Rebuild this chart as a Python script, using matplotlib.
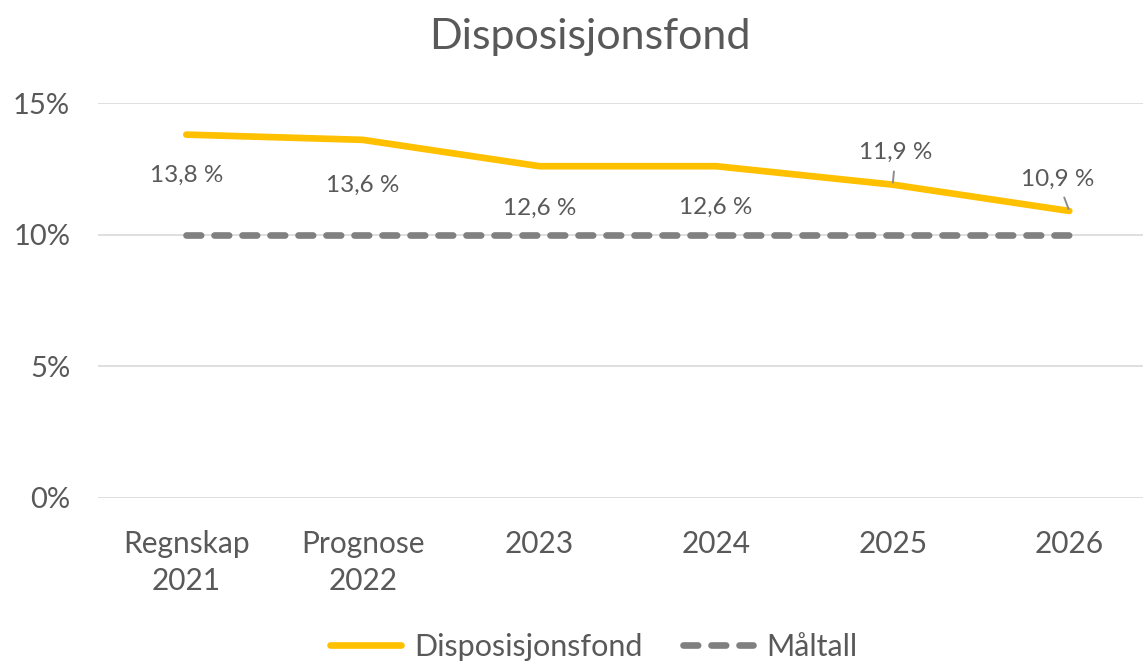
import matplotlib
matplotlib.use("Agg")
import matplotlib.pyplot as plt
from matplotlib.ticker import FuncFormatter

categories = ["Regnskap\n2021", "Prognose\n2022", "2023", "2024", "2025", "2026"]
disposisjonsfond = [13.8, 13.6, 12.6, 12.6, 11.9, 10.9]
maltall = [10, 10, 10, 10, 10, 10]
yticks = [0, 5, 10, 15]

plt.rcParams['font.family'] = ['Lato', 'DejaVu Sans']
txt = '#595959'

fig = plt.figure(figsize=(11.43, 6.64), dpi=100)
W, H = 1143, 664
left_px, right_px, top_px, bot_px = 98, 1143, 103, 498
ax = fig.add_axes([left_px / W, 1 - bot_px / H, (right_px - left_px) / W, (bot_px - top_px) / H])

x = list(range(len(categories)))
spacing = 176.6
ax.set_xlim(-0.5, -0.5 + (right_px - left_px) / spacing)
ax.set_ylim(0, 15)

ax.plot(x, disposisjonsfond, color='#FFC000', lw=4.8, solid_capstyle='round', zorder=3, label='Disposisjonsfond')
ax.plot(x, maltall, color='#808080', lw=4.8, dashes=(2.2, 2.0), dash_capstyle='round', zorder=2, label='Måltall')

ax.set_yticks(yticks)
ax.yaxis.set_major_formatter(FuncFormatter(lambda v, p: f"{int(v)}%"))
ax.grid(axis='y', color='#D9D9D9', lw=1.2)
ax.set_axisbelow(True)
for s in ax.spines.values():
    s.set_visible(False)
ax.tick_params(axis='both', length=0, labelsize=21, labelcolor=txt)
ax.tick_params(axis='y', pad=20)
ax.tick_params(axis='x', pad=23)
ax.set_xticks(x)
ax.set_xticklabels(categories, linespacing=1.4, fontsize=21.5)

# data labels: (dx_px, dy_px) offsets and leader line flag
offsets = [(0, -41), (0, -45), (0, -42), (0, -41), (3, 32), (-12, 32)]
leaders = [False, False, False, False, True, True]
for xi, v, (dx, dy), ld in zip(x, disposisjonsfond, offsets, leaders):
    lbl = f"{v:.1f}".replace('.', ',') + " %"
    if ld:
        ax.annotate(lbl, xy=(xi, v), xytext=(dx * 0.72, dy * 0.72), textcoords='offset points',
                    ha='center', va='center', fontsize=17.5, color=txt,
                    arrowprops=dict(arrowstyle='-', color='#8c8c8c', lw=1.4, shrinkA=4, shrinkB=1.5))
    else:
        ax.annotate(lbl, xy=(xi, v), xytext=(dx * 0.72, dy * 0.72), textcoords='offset points',
                    ha='center', va='center', fontsize=17.5, color=txt)

fig.text(590 / W, 1 - 37 / H, "Disposisjonsfond", ha='center', va='center', fontsize=31, color=txt)

leg = fig.legend(loc='center', bbox_to_anchor=(594 / W, 1 - 647 / H), ncol=2, frameon=False,
                 fontsize=22, labelcolor=txt, handlelength=2.3, handletextpad=0.45, columnspacing=1.3)

fig.savefig("out.png", dpi=100)
